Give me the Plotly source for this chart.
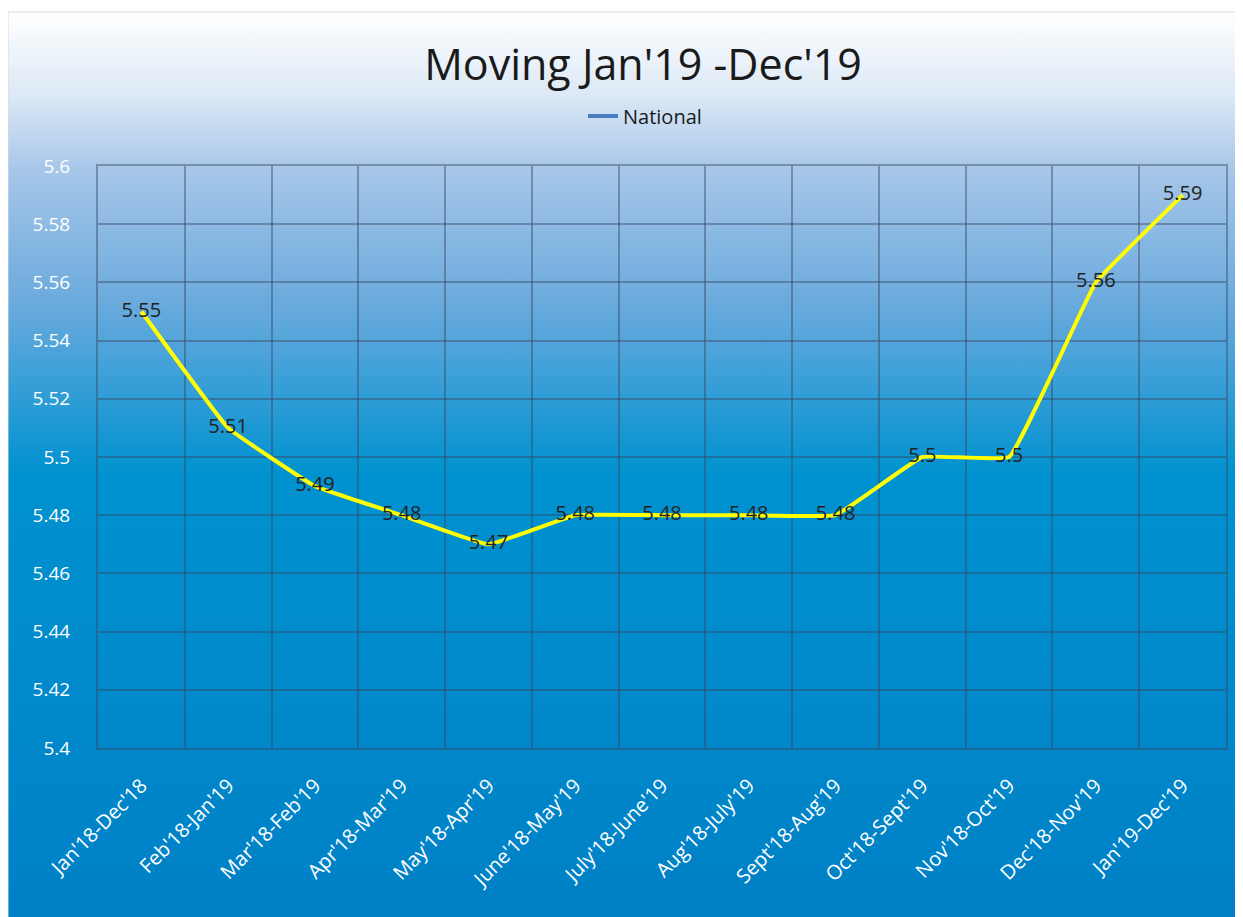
import base64
import plotly.graph_objects as go

categories = ["Jan'18-Dec'18", "Feb'18-Jan'19", "Mar'18-Feb'19", "Apr'18-Mar'19",
              "May'18-Apr'19", "June'18-May'19", "July'18-June'19", "Aug'18-July'19",
              "Sept'18-Aug'19", "Oct'18-Sept'19", "Nov'18-Oct'19", "Dec'18-Nov'19",
              "Jan'19-Dec'19"]
national = [5.55, 5.51, 5.49, 5.48, 5.47, 5.48, 5.48, 5.48, 5.48, 5.5, 5.5, 5.56, 5.59]
value_labels = ["5.55", "5.51", "5.49", "5.48", "5.47", "5.48", "5.48", "5.48", "5.48",
                "5.5", "5.5", "5.56", "5.59"]
y_tick_vals = [5.4, 5.42, 5.44, 5.46, 5.48, 5.5, 5.52, 5.54, 5.56, 5.58, 5.6]
y_tick_text = ["5.4", "5.42", "5.44", "5.46", "5.48", "5.5", "5.52", "5.54", "5.56", "5.58", "5.6"]

# page body has an 8px margin; work in reference pixel coords and shift by OFF
OFF = 8
W, H = 1243 - OFF, 917 - OFF
L, R, T, B = 98 - OFF, 17, 166 - OFF, 169
ph = H - T - B
pw = W - L - R

svg = """<svg xmlns='http://www.w3.org/2000/svg' width='100' height='100' preserveAspectRatio='none'>
<defs><linearGradient id='g' x1='0' y1='0' x2='0' y2='1'>
<stop offset='0' stop-color='#FFFFFF'/>
<stop offset='0.09' stop-color='#DDE9F6'/>
<stop offset='0.175' stop-color='#A6C6E9'/>
<stop offset='0.32' stop-color='#6BAADD'/>
<stop offset='0.51' stop-color='#0092D0'/>
<stop offset='1' stop-color='#0080C6'/>
</linearGradient></defs>
<rect x='0' y='0' width='100' height='100' fill='url(#g)'/>
</svg>"""
src = "data:image/svg+xml;base64," + base64.b64encode(svg.encode()).decode()

def px2x(px):
    return (px - OFF - L) / pw

def py2y(py):
    return (H - B - (py - OFF)) / ph

fig = go.Figure()
fig.add_trace(go.Scatter(
    x=categories, y=national, mode="lines+text", text=value_labels,
    textposition="middle center", textfont=dict(family="Open Sans", size=20, color="#222222"),
    line=dict(color="#FFFF00", width=4, shape="spline", smoothing=0.25),
    showlegend=False, hoverinfo="skip", cliponaxis=False))
fig.add_trace(go.Scatter(
    x=[None], y=[None], mode="lines", name="National",
    line=dict(color="#4A7CC0", width=4)))

fig.add_layout_image(dict(
    source=src, xref="paper", yref="paper",
    x=px2x(8), y=py2y(12), sizex=(1243 - 8) / pw, sizey=(917 - 12) / ph,
    xanchor="left", yanchor="top", sizing="stretch", layer="below"))

fig.add_shape(type="rect", xref="paper", yref="paper",
              x0=px2x(8), x1=px2x(1250), y0=py2y(925), y1=py2y(12),
              line=dict(color="#D9D9D9", width=1), fillcolor="rgba(0,0,0,0)", layer="below")

grid = "rgba(55,70,95,0.45)"
fig.update_layout(
    width=W, height=H,
    margin=dict(l=L, r=R, t=T, b=B),
    paper_bgcolor="white", plot_bgcolor="rgba(0,0,0,0)",
    title=dict(text="Moving Jan'19 -Dec'19", x=(643 - OFF) / W, xanchor="center",
               y=1 - (65 - OFF) / H, yanchor="middle", yref="container",
               font=dict(family="Open Sans", size=43, color="#1A1A1A")),
    legend=dict(orientation="h", x=px2x(645), xanchor="center", y=py2y(116), yanchor="middle",
                font=dict(family="Open Sans", size=20, color="#1A1A1A"),
                bgcolor="rgba(0,0,0,0)"),
    xaxis=dict(type="category", tickson="boundaries", showgrid=True, gridcolor=grid, gridwidth=2,
               range=[-0.5, 12.5],
               tickangle=-45, tickfont=dict(family="Open Sans", size=20, color="white"),
               showline=True, linecolor=grid, linewidth=2, mirror=True, ticks="", ticklen=0,
               ticklabelstandoff=16),
    yaxis=dict(range=[5.4, 5.6], tickvals=y_tick_vals, ticktext=y_tick_text,
               showgrid=True, gridcolor=grid, gridwidth=2,
               tickfont=dict(family="Open Sans", size=19, color="white"),
               showline=True, linecolor=grid, linewidth=2, mirror=True,
               zeroline=False, ticks="", ticklabelstandoff=22),
)

fig.write_html("out.html")
